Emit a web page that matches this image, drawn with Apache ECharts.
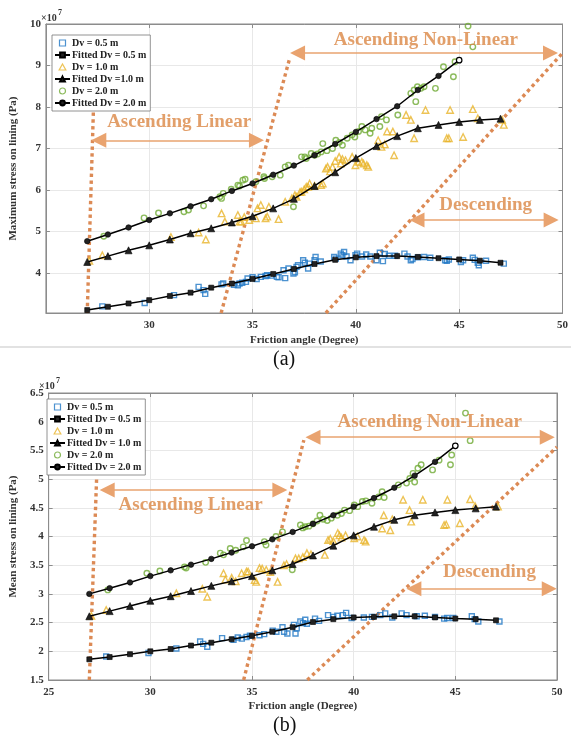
<!DOCTYPE html>
<html>
<head>
<meta charset="utf-8">
<script src="https://cdn.jsdelivr.net/npm/echarts@6/dist/echarts.min.js"></script>
<style>
  html, body { margin: 0; padding: 0; background: #fff; }
  #chart { width: 571px; height: 740px; }
</style>
</head>
<body>
<div id="chart"></div>
<script>
// ---- Fitted curves: friction angle (deg) vs stress (x1e7 Pa) ----
const fitAngles   = [27, 28, 29, 30, 31, 32, 33, 34, 35, 36, 37, 38, 39, 40, 41, 42, 43, 44, 45, 46, 47];
const fitAngles20 = [27, 28, 29, 30, 31, 32, 33, 34, 35, 36, 37, 38, 39, 40, 41, 42, 43, 44, 45];

// (a) maximum stress
const maxFit05 = [3.11, 3.19, 3.27, 3.35, 3.45, 3.53, 3.65, 3.75, 3.86, 3.98, 4.10, 4.22, 4.32, 4.38, 4.41, 4.41, 4.39, 4.36, 4.33, 4.30, 4.25];
const maxFit10 = [4.27, 4.41, 4.55, 4.67, 4.81, 4.96, 5.08, 5.22, 5.37, 5.56, 5.79, 6.10, 6.43, 6.77, 7.06, 7.30, 7.49, 7.57, 7.64, 7.69, 7.72];
const maxFit20 = [4.77, 4.93, 5.10, 5.28, 5.44, 5.61, 5.78, 5.98, 6.16, 6.37, 6.59, 6.84, 7.11, 7.40, 7.71, 8.02, 8.41, 8.75, 9.13];

// (b) mean stress
const meanFit05 = [1.86, 1.90, 1.95, 2.00, 2.04, 2.10, 2.15, 2.21, 2.27, 2.34, 2.42, 2.51, 2.56, 2.59, 2.60, 2.61, 2.61, 2.59, 2.57, 2.56, 2.54];
const meanFit10 = [2.61, 2.70, 2.79, 2.88, 2.96, 3.05, 3.14, 3.22, 3.31, 3.41, 3.52, 3.67, 3.84, 4.02, 4.17, 4.29, 4.37, 4.42, 4.46, 4.49, 4.52];
const meanFit20 = [3.00, 3.10, 3.20, 3.31, 3.41, 3.51, 3.61, 3.72, 3.83, 3.95, 4.08, 4.22, 4.37, 4.52, 4.67, 4.85, 5.06, 5.30, 5.58];

// ---- Simulation samples [friction angle, stress x1e7 Pa] ----
const maxPts05 = [[27.73,3.20],[29.78,3.28],[31.2,3.47],[32.39,3.67],[32.63,3.59],[32.71,3.50],[33.5,3.73],[33.58,3.75],[34.1,3.72],[34.29,3.71],[34.37,3.75],[34.5,3.77],[34.68,3.79],[34.76,3.87],[35.0,3.90],[35.2,3.86],[35.4,3.91],[35.63,3.93],[35.71,3.95],[35.9,3.94],[36.18,3.91],[36.26,3.90],[36.5,4.07],[36.58,3.88],[36.74,4.11],[36.98,3.99],[37.05,4.02],[37.13,4.15],[37.2,4.19],[37.45,4.31],[37.53,4.25],[37.69,4.11],[37.75,4.23],[38.0,4.31],[38.05,4.39],[38.3,4.28],[38.95,4.39],[39.03,4.35],[39.27,4.47],[39.35,4.43],[39.43,4.51],[39.55,4.40],[39.74,4.31],[39.98,4.43],[40.06,4.47],[40.3,4.40],[40.5,4.45],[40.7,4.40],[41.0,4.31],[41.16,4.49],[41.31,4.29],[41.4,4.46],[41.6,4.42],[41.9,4.42],[42.35,4.47],[42.5,4.40],[42.66,4.31],[42.74,4.34],[43.0,4.38],[43.3,4.39],[43.6,4.37],[44.32,4.31],[44.4,4.30],[44.5,4.33],[45.08,4.27],[45.19,4.31],[45.66,4.37],[45.75,4.32],[45.9,4.25],[45.95,4.19],[46.3,4.30],[47.16,4.23]];
const maxPts10 = [[27.1,4.30],[27.73,4.43],[31.05,4.87],[32.39,4.98],[32.74,4.81],[33.5,5.44],[33.66,5.24],[34.29,5.40],[34.37,5.24],[34.45,5.24],[34.6,5.35],[34.84,5.28],[35.16,5.32],[35.24,5.56],[35.4,5.64],[35.63,5.32],[35.71,5.36],[35.79,5.60],[36.26,5.30],[36.58,5.72],[36.9,5.80],[37.05,5.88],[37.13,5.84],[37.3,5.95],[37.37,5.96],[37.5,6.02],[37.6,6.08],[37.69,6.08],[37.76,6.16],[38.0,6.10],[38.32,6.12],[38.4,6.16],[38.55,6.52],[38.63,6.56],[38.75,6.45],[38.87,6.56],[39.0,6.70],[39.19,6.80],[39.27,6.64],[39.35,6.75],[39.5,6.72],[39.82,6.80],[39.98,6.60],[40.13,6.68],[40.29,6.68],[40.37,6.64],[40.53,6.60],[40.6,6.56],[41.08,7.20],[41.24,7.04],[41.4,7.10],[41.51,7.41],[41.79,7.41],[41.85,6.84],[42.43,7.81],[42.66,7.69],[42.82,7.25],[43.37,7.93],[44.4,7.25],[44.5,7.25],[44.56,7.93],[45.19,7.28],[45.66,7.95],[45.9,7.73],[47.08,7.69],[47.16,7.57]];
const maxPts20 = [[27.8,4.89],[29.75,5.33],[30.45,5.45],[31.68,5.48],[31.9,5.52],[32.63,5.62],[33.42,5.84],[33.5,5.80],[33.58,5.92],[33.97,6.02],[34.29,6.12],[34.37,6.10],[34.53,6.24],[34.64,6.26],[35.16,6.20],[35.55,6.32],[35.58,6.28],[35.95,6.32],[36.34,6.36],[36.58,6.56],[36.74,6.60],[36.98,5.60],[37.37,6.80],[37.53,6.80],[37.6,6.76],[37.84,6.88],[38.0,6.84],[38.15,6.87],[38.32,6.92],[38.4,7.12],[38.6,6.95],[38.87,7.00],[39.03,7.20],[39.2,7.15],[39.35,7.08],[39.58,7.25],[39.82,7.33],[39.95,7.28],[40.13,7.41],[40.29,7.53],[40.45,7.45],[40.69,7.37],[40.77,7.49],[41.16,7.53],[41.24,7.77],[41.48,7.69],[42.03,7.81],[42.66,8.33],[42.82,8.41],[42.9,8.13],[42.98,8.49],[43.15,8.45],[43.3,8.49],[43.85,8.45],[44.24,8.97],[44.72,8.73],[44.8,9.09],[45.43,9.95],[45.66,9.45]];

const meanPts05 = [[27.83,1.91],[29.91,1.97],[31.28,2.05],[32.45,2.17],[32.6,2.13],[32.8,2.08],[33.53,2.23],[34.09,2.20],[34.3,2.24],[34.5,2.22],[34.73,2.25],[34.9,2.27],[35.37,2.28],[35.6,2.30],[36.02,2.36],[36.2,2.34],[36.5,2.42],[36.58,2.34],[36.74,2.31],[37.06,2.46],[37.14,2.31],[37.2,2.40],[37.38,2.52],[37.5,2.49],[37.62,2.55],[37.7,2.48],[38.1,2.57],[38.3,2.53],[38.74,2.63],[39.0,2.60],[39.2,2.62],[39.47,2.63],[39.63,2.67],[39.9,2.58],[40.5,2.59],[40.9,2.60],[41.31,2.63],[41.55,2.66],[41.9,2.59],[42.36,2.66],[42.6,2.63],[43.1,2.61],[43.5,2.62],[44.0,2.60],[44.45,2.57],[44.6,2.58],[44.9,2.58],[45.81,2.61],[45.95,2.56],[46.13,2.52],[47.17,2.52]];
const meanPts10 = [[27.1,2.62],[27.83,2.72],[31.28,3.01],[32.56,3.09],[32.8,2.95],[33.6,3.36],[33.69,3.25],[34.0,3.28],[34.2,3.22],[34.49,3.36],[34.73,3.39],[34.81,3.39],[35.13,3.24],[35.21,3.21],[35.37,3.45],[35.5,3.44],[35.7,3.42],[35.9,3.38],[36.26,3.21],[36.57,3.50],[36.7,3.52],[37.14,3.62],[37.3,3.62],[37.5,3.64],[37.7,3.71],[37.9,3.69],[38.58,3.68],[38.74,3.94],[38.85,3.96],[39.0,3.92],[39.22,4.06],[39.3,4.02],[39.4,3.98],[39.6,4.02],[40.03,3.97],[40.19,4.00],[40.51,3.94],[40.59,3.91],[41.4,4.14],[41.48,4.37],[41.8,4.11],[41.9,4.30],[42.43,4.64],[42.75,4.46],[42.83,4.26],[43.4,4.64],[44.45,4.20],[44.55,4.21],[44.61,4.64],[45.22,4.23],[45.73,4.65],[45.97,4.53],[47.1,4.52]];
const meanPts20 = [[27.91,3.07],[29.83,3.36],[30.47,3.40],[31.68,3.47],[31.76,3.45],[32.72,3.55],[33.44,3.71],[33.6,3.68],[33.93,3.79],[34.2,3.76],[34.57,3.82],[34.73,3.93],[35.61,3.91],[35.69,3.85],[36.18,4.00],[36.5,4.08],[36.98,3.42],[37.38,4.20],[37.5,4.15],[37.62,4.17],[37.8,4.18],[38.0,4.22],[38.2,4.27],[38.34,4.37],[38.5,4.30],[38.7,4.28],[38.9,4.32],[39.2,4.37],[39.4,4.40],[39.55,4.46],[39.8,4.45],[40.03,4.55],[40.2,4.52],[40.43,4.61],[40.6,4.62],[40.9,4.58],[41.23,4.69],[41.4,4.78],[41.5,4.68],[42.2,4.90],[42.6,4.93],[42.76,5.01],[42.92,5.10],[43.0,4.95],[43.16,5.19],[43.32,5.25],[43.88,5.16],[44.2,5.33],[44.76,5.25],[44.82,5.42],[45.5,6.15],[45.73,5.67]];

// ---- Zone boundaries (dotted), zone arrows and zone names, in axis units ----
const maxBounds = [
  [[27.0, 3.04], [27.3, 7.93]],
  [[33.48, 3.04], [36.8, 9.18]],
  [[38.55, 3.04], [50.0, 9.30]]
];
const meanBounds = [
  [[27.0, 1.5], [27.36, 5.02]],
  [[34.59, 1.5], [37.55, 5.68]],
  [[37.72, 1.5], [50.0, 5.56]]
];
const maxArrows  = [[[27.56, 7.20], [35.19, 7.20]], [[37.18, 9.30], [49.42, 9.30]], [[42.96, 5.28], [49.45, 5.28]]];
const meanArrows = [[[27.88, 4.81], [36.37, 4.81]], [[38.0, 5.73], [49.52, 5.73]], [[42.96, 3.09], [49.62, 3.09]]];
const zoneNames  = ['Ascending Linear', 'Ascending Non-Linear', 'Descending'];
const maxNamePos  = [[31.45, 7.64], [43.39, 9.61], [46.28, 5.64]];
const meanNamePos = [[31.98, 4.55], [43.74, 5.99], [46.68, 3.38]];

// ---- Styling ----
const SERIF = 'Liberation Serif';
const BLUE = '#1F77C4', YELLOW = '#E9B42A', GREEN = '#6FAA35';
const ORANGE = '#ED7D31', DOTS = '#DC8A55';
const AXIS = '#8c8c8c';

const zip = (xs, ys) => xs.map((x, i) => [x, ys[i]]);
const hollowLast = (pts) => pts.map((p, i) => i === pts.length - 1
  ? { value: p, itemStyle: { color: '#fff', borderColor: '#000', borderWidth: 1.2 } } : p);

function scatterSeries(name, pts, symbol, size, color, g) {
  return {
    name, type: 'scatter', xAxisIndex: g * 2, yAxisIndex: g * 2, data: pts,
    symbol, symbolSize: size, z: 3,
    itemStyle: { color: 'rgba(0,0,0,0)', borderColor: color, borderWidth: 1.4 }
  };
}
function fitSeries(name, pts, symbol, size, g) {
  return {
    name, type: 'line', xAxisIndex: g * 2, yAxisIndex: g * 2, data: pts,
    symbol, symbolSize: size, showSymbol: true, z: 4,
    lineStyle: { color: '#000', width: 1.5 },
    itemStyle: { color: '#222', borderColor: '#000', borderWidth: 0.6 }
  };
}
function zoneSeries(bounds, arrows, namePos, g, fontSize) {
  const out = bounds.map((seg) => ({
    type: 'line', xAxisIndex: g * 2, yAxisIndex: g * 2, data: seg, symbol: 'none', z: 2,
    silent: true,
    lineStyle: { color: DOTS, width: 3.4, type: [3.4, 3.4], cap: 'butt' }
  }));
  out.push({
    type: 'scatter', xAxisIndex: g * 2, yAxisIndex: g * 2, z: 5, silent: true,
    data: namePos.map((p, i) => ({ value: p, name: zoneNames[i] })),
    symbolSize: 1, itemStyle: { color: 'rgba(0,0,0,0)' },
    label: {
      show: true, position: 'inside', formatter: '{b}',
      fontFamily: SERIF, fontWeight: 'bold', fontSize, color: '#DB8745'
    },
    markLine: {
      silent: true, symbol: ['triangle', 'triangle'], symbolSize: [15, 15],
      label: { show: false },
      lineStyle: { color: '#E9A36F', width: 1.6, type: 'solid' },
      itemStyle: { color: ORANGE },
      data: arrows.map((a) => [{ coord: a[0] }, { coord: a[1] }])
    }
  });
  return out;
}

const tickFont = { fontFamily: SERIF, fontWeight: 'bold', fontSize: 11, color: '#333' };
const nameFont = { fontFamily: SERIF, fontWeight: 'bold', fontSize: 11, color: '#333' };
const splitLn = { show: true, lineStyle: { color: '#e8e8e8', width: 1 } };
const axLine = { show: true, lineStyle: { color: AXIS, width: 1 } };
const axTick = { show: true, inside: true, length: 4, lineStyle: { color: AXIS } };

function xAxes(g, showMin) {
  return [
    { type: 'value', gridIndex: g, min: 25, max: 50, interval: 5, position: 'bottom',
      name: 'Friction angle (Degree)', nameLocation: 'middle', nameGap: g === 0 ? 22 : 21,
      nameTextStyle: nameFont, axisLine: axLine, axisTick: axTick, splitLine: splitLn,
      axisLabel: Object.assign({ margin: 7, showMinLabel: showMin }, tickFont) },
    { type: 'value', gridIndex: g, min: 25, max: 50, interval: 5, position: 'top',
      axisLine: axLine, axisTick: axTick, splitLine: { show: false }, axisLabel: { show: false } }
  ];
}

const legendIcon = {
  rect: 'path://M0,0H10V10H0Z',
  tri: 'path://M5,0L10,9H0Z',
  circ: 'path://M5,0A5,5 0 1,1 5,10A5,5 0 1,1 5,0Z'
};
function legend(g, left, top, names) {
  const hollow = (c) => ({ color: 'rgba(0,0,0,0)', borderColor: c, borderWidth: 1.2 });
  return {
    orient: 'vertical', left, top, itemWidth: 15, itemHeight: 6, itemGap: 2,
    padding: [3, 4, 3, 2], backgroundColor: '#fff', borderColor: '#777', borderWidth: 0.8,
    selectedMode: false,
    textStyle: { fontFamily: SERIF, fontWeight: 'bold', fontSize: 10, color: '#222', lineHeight: 10, padding: [0, 0, 0, -3] },
    data: [
      { name: names[0], icon: legendIcon.rect, itemStyle: hollow(BLUE) },
      { name: names[1] },
      { name: names[2], icon: legendIcon.tri, itemStyle: hollow(YELLOW) },
      { name: names[3] },
      { name: names[4], icon: legendIcon.circ, itemStyle: hollow(GREEN) },
      { name: names[5] }
    ]
  };
}

function sciLabel(left, top) {
  return [
    { type: 'text', left, top: top + 4, style: { text: '×10', font: 'bold 10px "Liberation Serif"', fill: '#333' } },
    { type: 'text', left: left + 17, top, style: { text: '7', font: 'bold 8px "Liberation Serif"', fill: '#333' } }
  ];
}

const namesA = ['Dv = 0.5 m', 'Fitted Dv = 0.5 m', 'Dv = 1.0 m', 'Fitted Dv =1.0 m', 'Dv = 2.0 m', 'Fitted Dv = 2.0 m'];
const namesB = ['Dv = 0.5 m', 'Fitted Dv = 0.5 m', 'Dv = 1.0 m', 'Fitted Dv = 1.0 m', 'Dv = 2.0 m', 'Fitted Dv = 2.0 m'];

const option = {
  animation: false,
  backgroundColor: '#fff',
  grid: [
    { left: 39, right: 4, top: 24, bottom: 427, show: true, borderColor: AXIS, borderWidth: 1 },
    { left: 38, right: 14, top: 393, bottom: 60, show: true, borderColor: AXIS, borderWidth: 1 }
  ],
  xAxis: [].concat(xAxes(0, false), xAxes(1, true)),
  yAxis: [
    { type: 'value', gridIndex: 0, min: 3.04, max: 10, splitNumber: 7, position: 'left',
      name: 'Maximum stress on lining (Pa)', nameLocation: 'middle', nameGap: 23, nameRotate: 90,
      nameTextStyle: nameFont, axisLine: axLine, axisTick: axTick, splitLine: splitLn,
      axisLabel: Object.assign({ margin: 5, showMinLabel: false }, tickFont) },
    { type: 'value', gridIndex: 0, min: 3.04, max: 10, splitNumber: 7, position: 'right',
      axisLine: axLine, axisTick: axTick, splitLine: { show: false }, axisLabel: { show: false } },
    { type: 'value', gridIndex: 1, min: 1.5, max: 6.5, interval: 0.5, position: 'left',
      name: 'Mean stress on lining (Pa)', nameLocation: 'middle', nameGap: 26, nameRotate: 90,
      nameTextStyle: nameFont, axisLine: axLine, axisTick: axTick, splitLine: splitLn,
      axisLabel: Object.assign({ margin: 5 }, tickFont) },
    { type: 'value', gridIndex: 1, min: 1.5, max: 6.5, interval: 0.5, position: 'right',
      axisLine: axLine, axisTick: axTick, splitLine: { show: false }, axisLabel: { show: false } }
  ],
  legend: [legend(0, 52, 35, namesA), legend(1, 47, 399, namesB)],
  series: [].concat(
    zoneSeries(maxBounds, maxArrows, maxNamePos, 0, 19),
    [
      scatterSeries(namesA[0], maxPts05, 'rect', 5, BLUE, 0),
      fitSeries(namesA[1], zip(fitAngles, maxFit05), 'rect', 5, 0),
      scatterSeries(namesA[2], maxPts10, 'triangle', 6.5, YELLOW, 0),
      fitSeries(namesA[3], zip(fitAngles, maxFit10), 'triangle', 7, 0),
      scatterSeries(namesA[4], maxPts20, 'circle', 5.5, GREEN, 0),
      fitSeries(namesA[5], hollowLast(zip(fitAngles20, maxFit20)), 'circle', 5.5, 0)
    ],
    zoneSeries(meanBounds, meanArrows, meanNamePos, 1, 19),
    [
      scatterSeries(namesB[0], meanPts05, 'rect', 5, BLUE, 1),
      fitSeries(namesB[1], zip(fitAngles, meanFit05), 'rect', 5, 1),
      scatterSeries(namesB[2], meanPts10, 'triangle', 6.5, YELLOW, 1),
      fitSeries(namesB[3], zip(fitAngles, meanFit10), 'triangle', 7, 1),
      scatterSeries(namesB[4], meanPts20, 'circle', 5.5, GREEN, 1),
      fitSeries(namesB[5], hollowLast(zip(fitAngles20, meanFit20)), 'circle', 5.5, 1)
    ]
  ),
  graphic: [].concat(
    sciLabel(41, 9),
    sciLabel(39, 377),
    [
      { type: 'rect', left: 0, top: 346, shape: { width: 571, height: 2 }, style: { fill: '#e2e2e2' } },
      { type: 'text', left: 273, top: 350, style: { text: '(a)', font: '20px "Liberation Serif"', fill: '#111' } },
      { type: 'text', left: 273, top: 716, style: { text: '(b)', font: '20px "Liberation Serif"', fill: '#111' } }
    ]
  )
};

const chart = echarts.init(document.getElementById('chart'), null, { renderer: 'canvas' });
chart.setOption(option);
</script>
</body>
</html>
